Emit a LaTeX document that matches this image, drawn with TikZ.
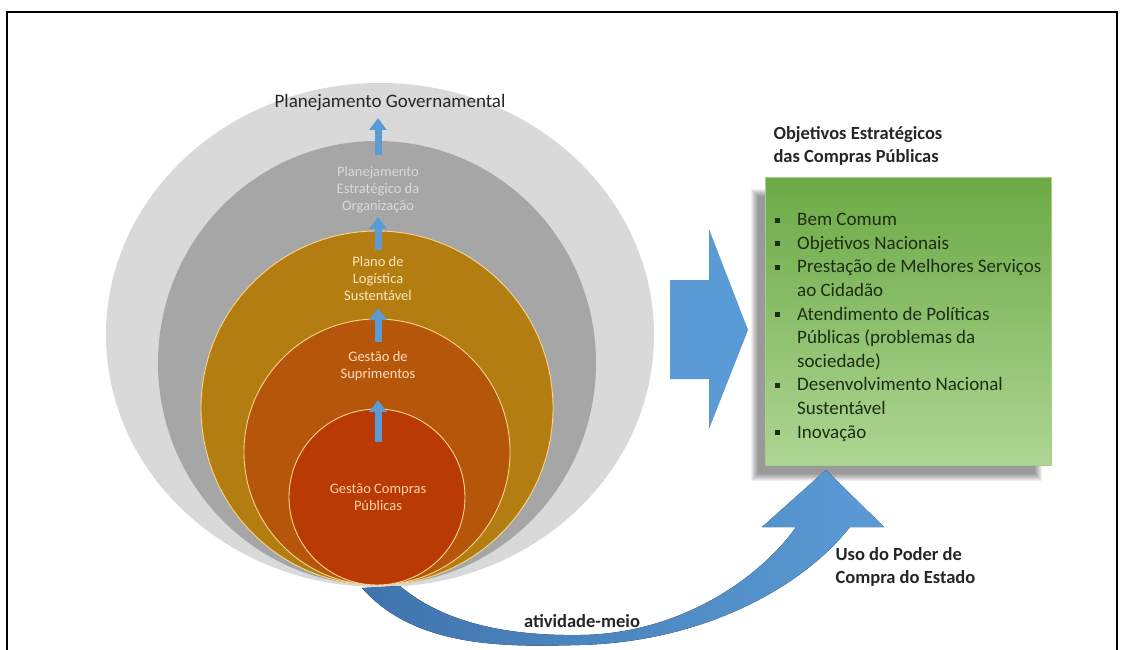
\documentclass[tikz,border=0pt]{standalone}
\usepackage{fontspec}
\setmainfont{Carlito}
\usetikzlibrary{arrows.meta}
\definecolor{ringgov}{HTML}{D9D9D9}
\definecolor{ringorg}{HTML}{A6A6A6}
\definecolor{ringpls}{HTML}{B47D12}
\definecolor{ringsup}{HTML}{B5560A}
\definecolor{ringcp}{HTML}{B93A05}
\definecolor{ringline}{HTML}{F7D58E}
\definecolor{flowblue}{HTML}{5B9BD5}
\definecolor{flowdeep}{HTML}{3F74AE}
\definecolor{goaltop}{HTML}{6BAA45}
\definecolor{goalbot}{HTML}{AED593}
\definecolor{goaledge}{HTML}{A3D08A}
\definecolor{inkdark}{HTML}{262626}
\definecolor{goalink}{HTML}{1E2C14}
\tikzset{
  ring edge/.style={draw=ringline, line width=0.9pt},
  ring label/.style={font=\fontsize{14.5}{17}\selectfont, align=center, text=#1},
  rise arrow/.style={draw=flowblue, line width=7pt,
    -{Triangle[width=17pt, length=12pt]}},
  side label/.style={font=\bfseries\fontsize{18.5}{23}\selectfont,
    text=inkdark, align=left},
  goal box/.style={draw=goaledge, line width=1pt, top color=goaltop,
    bottom color=goalbot, inner sep=0pt},
}

\begin{document}
\begin{tikzpicture}[x=1pt, y=-1pt]
  \useasboundingbox (0,0) rectangle (1121,650);
  \clip (0,0) rectangle (1121,650);
  \fill[white] (0,0) rectangle (1121,650);
  \draw[black, line width=1.6pt] (7,12) rectangle (1117,670);

  % nested planning levels, all touching at the bottom
  \fill[ringgov] (380,335) ellipse [x radius=274pt, y radius=252pt];
  \fill[ringorg] (377,363) ellipse [x radius=219pt, y radius=222pt];
  \fill[ringpls, ring edge] (377,408) ellipse [x radius=176pt, y radius=177pt];
  \fill[ringsup, ring edge] (377,452) ellipse [x radius=133pt, y radius=133pt];
  \fill[ringcp, ring edge] (377,497) ellipse [x radius=88pt, y radius=88pt];

  \node[ring label=inkdark, font=\fontsize{19}{22}\selectfont] (gov) at (390,103)
    {Planejamento Governamental};
  \node[ring label=ringgov] (org) at (378,190)
    {Planejamento\\Estratégico da\\Organização};
  \node[ring label={ringline!60!white}] (pls) at (378,279)
    {Plano de\\Logística\\Sustentável};
  \node[ring label={orange!25!white}] (sup) at (378,366)
    {Gestão de\\Suprimentos};
  \node[ring label={orange!35!white}] (cp) at (378,497)
    {Gestão Compras\\Públicas};

  \foreach \lo/\hi in {155/118, 250/217, 342/308, 442/400}
    \draw[rise arrow] (378,\lo) -- (378,\hi);

  % block arrow towards the goals
  \fill[flowblue] (670,280) -- (709,280) -- (709,229) -- (748,330)
    -- (709,429) -- (709,379) -- (670,379) -- cycle;

  % soft shadow behind the goals box
  \foreach \g in {0,...,7}
    \fill[black, opacity=0.06] (751+\g,189+\g) rectangle (1042-\g,481-\g);
  \node[goal box, minimum width=286pt, minimum height=288pt,
    anchor=north west] (goals) at (765,177) {};

  \node[side label, anchor=north west] (goalhead) at (770,123)
    {Objetivos Estratégicos\\das Compras Públicas};
  \node[font=\fontsize{19}{23.6}\selectfont, text=goalink, anchor=north west,
    inner sep=0pt] (goallist) at (775,209) {%
    \begin{tabular}{@{}p{22pt}@{}l@{}}
      \rule[3pt]{5pt}{5pt} & Bem Comum\\
      \rule[3pt]{5pt}{5pt} & Objetivos Nacionais\\
      \rule[3pt]{5pt}{5pt} & Prestação de Melhores Serviços\\
                           & ao Cidadão\\
      \rule[3pt]{5pt}{5pt} & Atendimento de Políticas\\
                           & Públicas (problemas da\\
                           & sociedade)\\
      \rule[3pt]{5pt}{5pt} & Desenvolvimento Nacional\\
                           & Sustentável\\
      \rule[3pt]{5pt}{5pt} & Inovação
    \end{tabular}};

  % purchasing power loop back up to the goals
  \fill[left color=flowdeep, right color=flowblue]
    (362,588) .. controls (415,648) and (505,647) .. (580,645)
    .. controls (700,642) and (800,590) .. (850,527)
    -- (884,527) -- (826,470) -- (762,527) -- (796,527)
    .. controls (760,578) and (680,634) .. (580,635)
    .. controls (510,636) and (445,624) .. (400,586) -- cycle;

  \node[side label] (meio) at (582,621) {atividade-meio};
  \node[side label, anchor=west] (poder) at (832,567)
    {Uso do Poder de\\Compra do Estado};
\end{tikzpicture}
\end{document}
